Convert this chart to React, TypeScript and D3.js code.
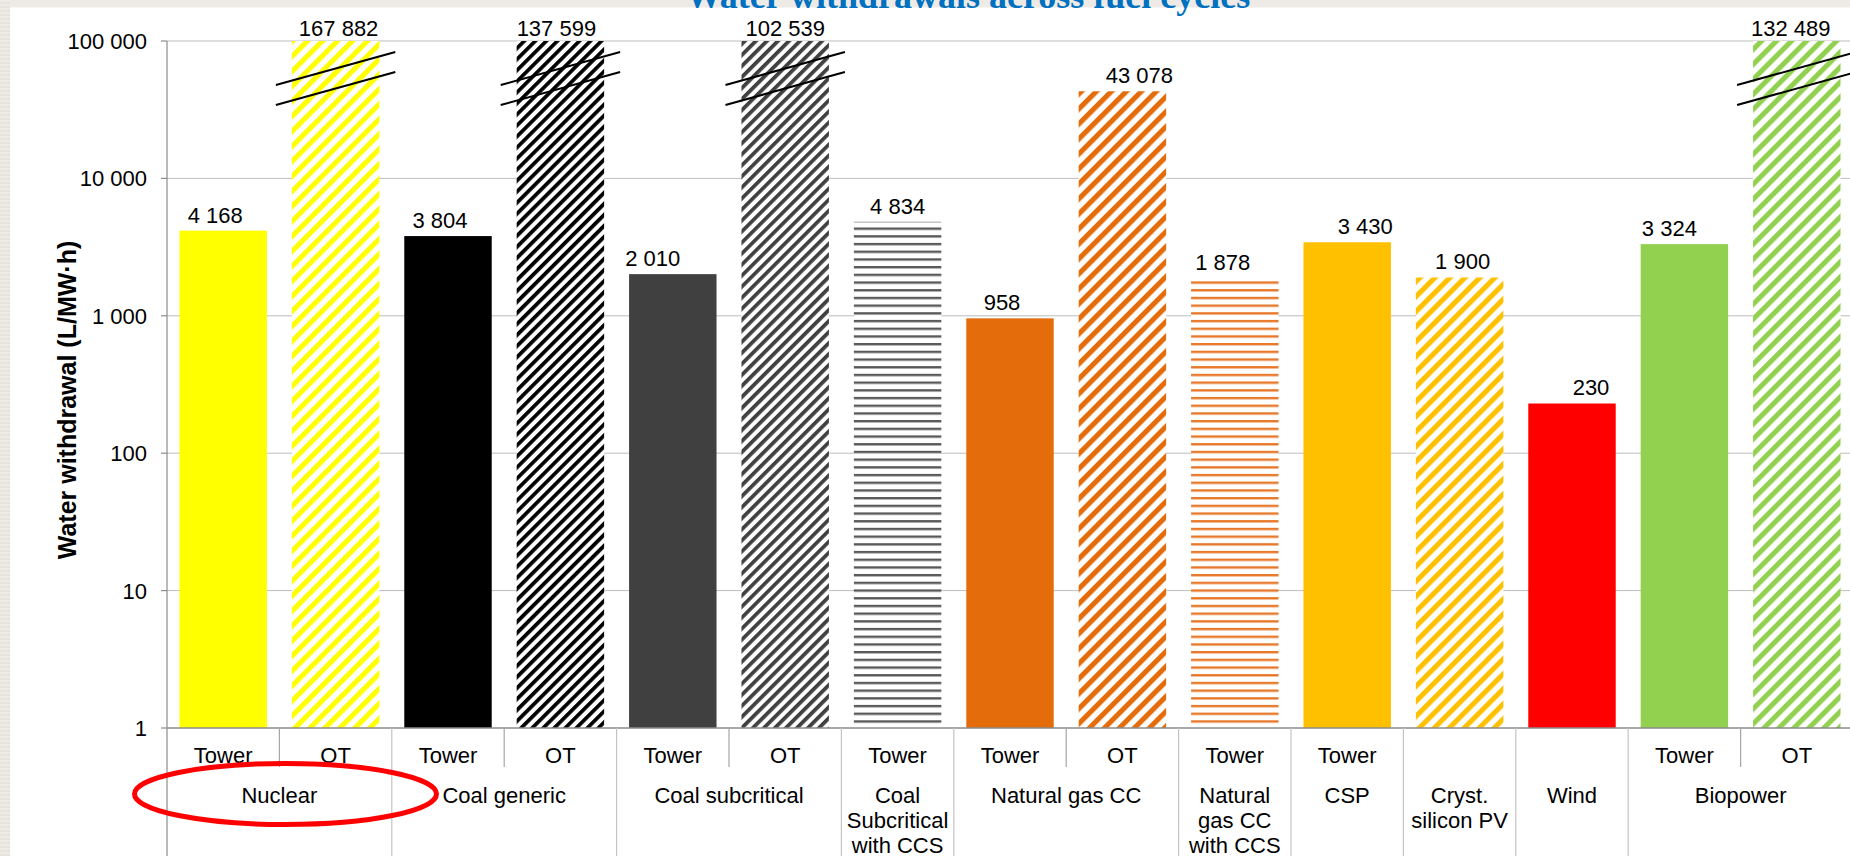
import React from 'react';
import * as d3 from 'd3';

const W = 1850;
const H = 856;

// ---- data ----
const barCooling = ['Tower', 'OT', 'Tower', 'OT', 'Tower', 'OT', 'Tower', 'Tower', 'OT', 'Tower', 'Tower', '', '', 'Tower', 'OT'];
const barGroup = [0, 0, 1, 1, 2, 2, 3, 4, 4, 5, 6, 7, 8, 9, 9];
const barValues = [4168, 167882, 3804, 137599, 2010, 102539, 4834, 958, 43078, 1878, 3430, 1900, 230, 3324, 132489];
const categoryLabels = [
  ['Nuclear'],
  ['Coal generic'],
  ['Coal subcritical'],
  ['Coal', 'Subcritical', 'with CCS'],
  ['Natural gas CC'],
  ['Natural', 'gas CC', 'with CCS'],
  ['CSP'],
  ['Cryst.', 'silicon PV'],
  ['Wind'],
  ['Biopower'],
];
const yTicks = [1, 10, 100, 1000, 10000, 100000];
const yMax = 100000;

// ---- styles ----
const barFillKind = ['solid', 'diag', 'solid', 'diag', 'solid', 'diag', 'horiz', 'solid', 'diag', 'horiz', 'solid', 'diag', 'solid', 'solid', 'diag'];
const barColors = ['#FFFF00', '#FFFF00', '#000000', '#000000', '#404040', '#404040', '#595959', '#E46C0A', '#E46C0A', '#E8782A', '#FFC000', '#FFC000', '#FF0000', '#92D050', '#92D050'];
const diagPeriod = [0, 10.6, 0, 7.8, 0, 7.8, 0, 0, 10.6, 0, 0, 10.6, 0, 0, 10.6];
const labelDx = [-8, 3, -8, -4, -20, 0, 0, -8, 17, -12, 18, 3, 19, -15, -6];

const FONT = '"Liberation Sans", Arial, sans-serif';

const X0 = 167;
const STEP = 112.4;
const AXIS_Y = 728;
const TOP_Y = 41;

function fmt(v: number) {
  return d3.format(',')(v).replace(/,/g, ' ');
}

export default function App() {
  const n = barValues.length;
  const x = d3
    .scaleBand<number>()
    .domain(d3.range(n))
    .range([X0, X0 + n * STEP])
    .paddingInner(0.222)
    .paddingOuter(0.111);
  const y = d3.scaleLog().domain([1, yMax]).range([AXIS_Y, TOP_Y]).clamp(true);
  const bw = x.bandwidth();
  const step = x.step();
  const bandStart = (i: number) => X0 + i * step;

  const groups = categoryLabels.map((lines, g) => {
    const idx = barGroup.map((gg, i) => (gg === g ? i : -1)).filter((i) => i >= 0);
    return { lines, first: idx[0], last: idx[idx.length - 1] };
  });

  const patId = (i: number) => `pat${i}`;

  return (
    <svg
      width={W}
      height={H}
      style={{ position: 'absolute', left: 0, top: 0, display: 'block' }}
      xmlns="http://www.w3.org/2000/svg"
    >
      <defs>
        <pattern id="bgtex" patternUnits="userSpaceOnUse" width="10" height="4">
          <rect width="10" height="4" fill="#EEEBE6" />
          <rect y="2" width="10" height="2" fill="#E7E3DD" />
        </pattern>
        {barValues.map((_, i) => {
          if (barFillKind[i] === 'diag') {
            const p = diagPeriod[i];
            return (
              <pattern key={i} id={patId(i)} patternUnits="userSpaceOnUse" width={p} height={p} patternTransform="rotate(45)">
                <rect width={p} height={p} fill="#fff" />
                <rect width={p * 0.48} height={p} fill={barColors[i]} />
              </pattern>
            );
          }
          if (barFillKind[i] === 'horiz') {
            return (
              <pattern key={i} id={patId(i)} patternUnits="userSpaceOnUse" width={10} height={7.7} y={AXIS_Y}>
                <rect width={10} height={7.7} fill="#fff" />
                <rect y={0} width={10} height={2.4} fill={barColors[i]} />
              </pattern>
            );
          }
          return null;
        })}
      </defs>

      {/* page background */}
      <rect width={W} height={H} fill="#EEEBE6" />
      <rect width={10} height={H} fill="url(#bgtex)" />
      <rect x={10} y={7.5} width={W - 10} height={H - 7.5} fill="#fff" />

      {/* title (cut off at top) */}
      <text x={968} y={8} textAnchor="middle" fontFamily='"Liberation Serif", "Times New Roman", serif' fontWeight="bold" fontSize={36} fill="#0070C0">
        Water withdrawals across fuel cycles
      </text>

      {/* gridlines */}
      {yTicks.slice(1).map((t) => (
        <line key={t} x1={X0} x2={W} y1={y(t)} y2={y(t)} stroke="#BDBDBD" strokeWidth={1} />
      ))}

      {/* bars */}
      {barValues.map((v, i) => {
        const top = y(Math.min(v, yMax));
        const fill = barFillKind[i] === 'solid' ? barColors[i] : `url(#${patId(i)})`;
        return <rect key={i} x={x(i)} y={top} width={bw} height={AXIS_Y - top} fill={fill} />;
      })}

      {/* break marks on truncated bars */}
      {barValues.map((v, i) => {
        if (v <= yMax) return null;
        const x0 = (x(i) as number) - 16;
        const x1 = (x(i) as number) + bw + 16;
        const t = y(yMax);
        return (
          <g key={i} stroke="#000" strokeWidth={2}>
            <line x1={x0} y1={t + 44} x2={x1} y2={t + 11} />
            <line x1={x0} y1={t + 64} x2={x1} y2={t + 31} />
          </g>
        );
      })}

      {/* value labels */}
      {barValues.map((v, i) => {
        const top = y(Math.min(v, yMax));
        const cx = (x(i) as number) + bw / 2 + labelDx[i];
        const by = v > yMax ? top - 5.5 : top - 8;
        return (
          <text key={i} x={cx} y={by} textAnchor="middle" fontFamily={FONT} fontSize={22} fill="#000">
            {fmt(v)}
          </text>
        );
      })}

      {/* y axis */}
      <line x1={X0} x2={X0} y1={TOP_Y} y2={H} stroke="#8C8C8C" strokeWidth={1.2} />
      {yTicks.map((t) => (
        <g key={t}>
          <line x1={X0 - 6} x2={X0} y1={y(t)} y2={y(t)} stroke="#8C8C8C" strokeWidth={1.2} />
          <text x={147} y={y(t) + 8} textAnchor="end" fontFamily={FONT} fontSize={22} fill="#000">
            {fmt(t)}
          </text>
        </g>
      ))}
      <text
        transform={`translate(76, 400) rotate(-90)`}
        textAnchor="middle"
        fontFamily={FONT}
        fontWeight="bold"
        fontSize={25}
        fill="#000"
      >
        Water withdrawal (L/MW·h)
      </text>

      {/* x axis */}
      <line x1={X0} x2={W} y1={AXIS_Y} y2={AXIS_Y} stroke="#8C8C8C" strokeWidth={1.5} />
      {d3.range(1, n + 1).map((k) => {
        const xx = bandStart(k);
        const sameGroup = k < n && barGroup[k] === barGroup[k - 1];
        return (
          <line
            key={k}
            x1={xx}
            x2={xx}
            y1={AXIS_Y}
            y2={sameGroup ? 767 : H}
            stroke={sameGroup ? '#A6A6A6' : '#C4C4C4'}
            strokeWidth={1.2}
          />
        );
      })}
      {barCooling.map((c, i) =>
        c ? (
          <text key={i} x={bandStart(i) + step / 2} y={763} textAnchor="middle" fontFamily={FONT} fontSize={22} fill="#000">
            {c}
          </text>
        ) : null
      )}
      {groups.map((g, gi) => {
        const cx = (bandStart(g.first) + bandStart(g.last + 1)) / 2;
        return (
          <text key={gi} x={cx} y={803} textAnchor="middle" fontFamily={FONT} fontSize={22} fill="#000">
            {g.lines.map((l, li) => (
              <tspan key={li} x={cx} y={803 + li * 25}>
                {l}
              </tspan>
            ))}
          </text>
        );
      })}

      {/* annotation ellipse */}
      <ellipse cx={285.5} cy={794} rx={151} ry={30.5} fill="none" stroke="#FF0000" strokeWidth={5} />
    </svg>
  );
}
